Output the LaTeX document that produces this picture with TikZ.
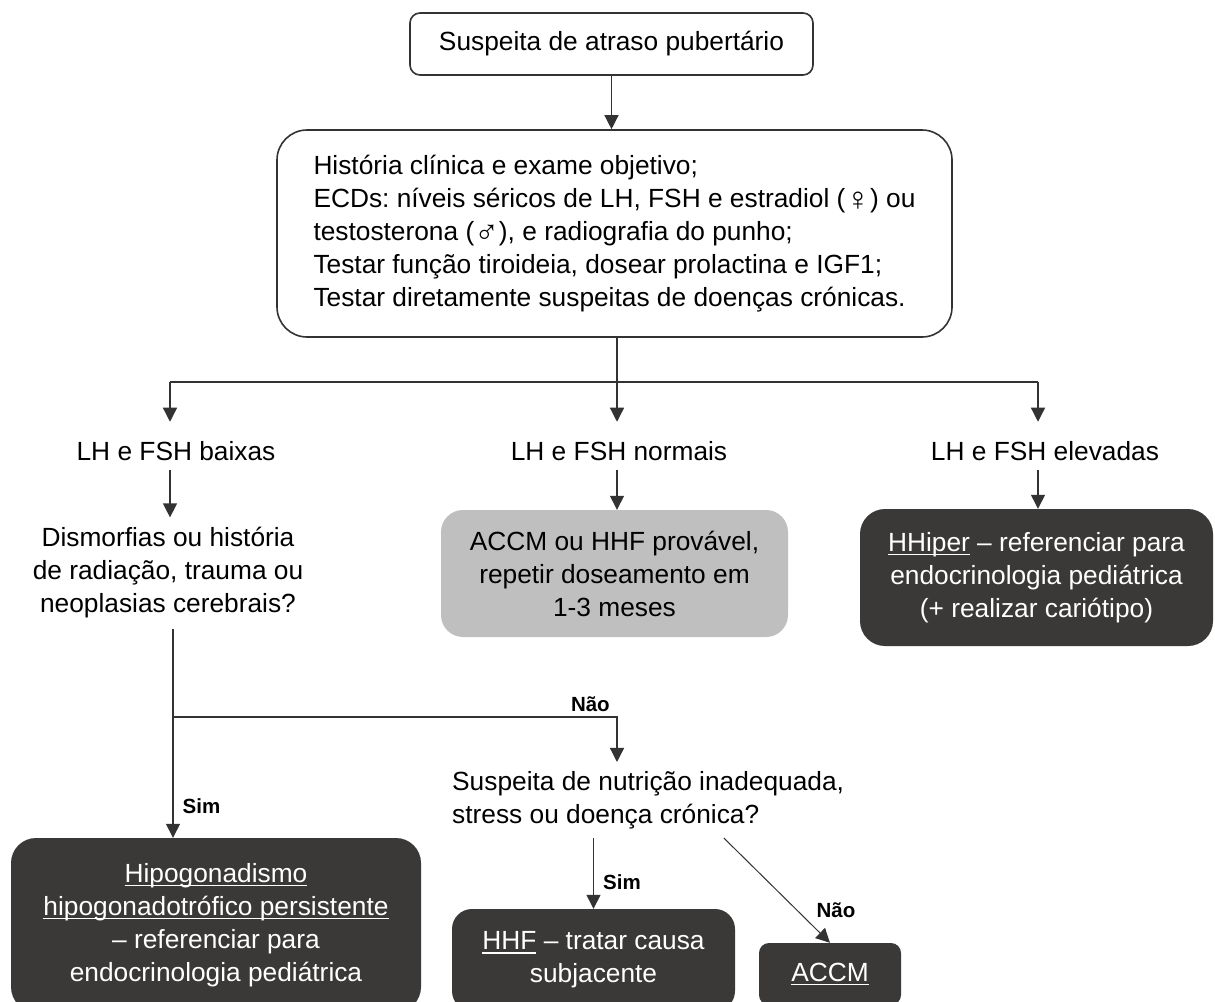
\documentclass[tikz,border=0pt]{standalone}
\usepackage{fontspec}
\usepackage{graphicx}
\setmainfont{Liberation Sans}
\usetikzlibrary{arrows.meta,calc}
\definecolor{darkbox}{RGB}{59,57,55}
\definecolor{greybox}{RGB}{191,191,191}
\definecolor{linegrey}{RGB}{51,51,51}
\newcommand{\ulword}[1]{\setbox0\hbox{#1}\rlap{\rule[-4pt]{\wd0}{1.5pt}}\box0\relax}
\newcommand{\gsym}[1]{\raisebox{-0.1em}{\scalebox{1.25}{#1}}}
\frenchspacing

\begin{document}
\begin{tikzpicture}[
  x=1pt, y=-1pt,
  every node/.style={font=\fontsize{26.3}{33}\selectfont, align=center},
  plain/.style={inner xsep=0pt, inner ysep=10pt},
  whitebox/.style={draw=linegrey, line width=1.6pt, fill=white},
  greyfill/.style={fill=greybox, rounded corners=22pt},
  darkfill/.style={fill=darkbox, text=white},
  answer/.style={font=\fontsize{20.5}{24}\bfseries\selectfont, inner xsep=9pt, inner ysep=5pt},
  arr/.style={draw=linegrey, line width=1.3pt, -{Triangle[length=14pt,width=14pt]}},
  link/.style={draw=linegrey, line width=1.3pt}
]
\useasboundingbox (0,0) rectangle (1215,1001);

\node[whitebox, rounded corners=10pt, minimum width=403pt, minimum height=62pt] (start) at (611.5,44) {Suspeita de atraso pubertário};
\node[whitebox, rounded corners=30pt, minimum width=675pt, minimum height=207pt, align=left] (exams) at (614.5,233.5)
  {História clínica e exame objetivo;\\ECDs: níveis séricos de LH, FSH e estradiol (\gsym{♀}) ou\\testosterona (\gsym{♂}), e radiografia do punho;\\Testar função tiroideia, dosear prolactina e IGF1;\\Testar diretamente suspeitas de doenças crónicas.};

\node[plain, anchor=base] (low) at (176,460) {LH e FSH baixas};
\node[plain, anchor=base] (normal) at (619,460) {LH e FSH normais};
\node[plain, anchor=base] (high) at (1045,460) {LH e FSH elevadas};

\node[plain] (dysm) at (168,573) {Dismorfias ou história\\de radiação, trauma ou\\neoplasias cerebrais?};
\node[greyfill, minimum width=347pt, minimum height=127pt] (probable) at (614.5,573.5) {ACCM ou HHF provável,\\repetir doseamento em\\1-3 meses};
\node[darkfill, rounded corners=25pt, minimum width=353pt, minimum height=137pt] (hyper) at (1036.5,577.5) {\ulword{HHiper} – referenciar para\\endocrinologia pediátrica\\(+ realizar cariótipo)};

\node[plain, anchor=west, align=left, inner ysep=9pt] (nutri) at (452,800) {Suspeita de nutrição inadequada,\\stress ou doença crónica?};

\node[darkfill, rounded corners=25pt, minimum width=410pt, minimum height=174pt] (persist) at (216,925) {\ulword{Hipogonadismo}\\\ulword{hipogonadotrófico persistente}\\– referenciar para\\endocrinologia pediátrica};
\node[darkfill, rounded corners=20pt, minimum width=283pt, minimum height=102pt] (hhf) at (593.5,960) {\ulword{HHF} – tratar causa\\subjacente};
\node[darkfill, rounded corners=10pt, minimum width=142pt, minimum height=62pt] (accm) at (830,974) {\ulword{ACCM}};

\coordinate (splitL) at (170,382);
\coordinate (splitM) at (617,382);
\coordinate (splitR) at (1038,382);
\coordinate (join) at (173,717);
\coordinate (noturn) at (617,717);

\draw[arr] (start.south) -- (start.south |- exams.north);
\draw[link] (exams.south -| splitM) -- (splitM);
\draw[link] (splitL) -- (splitR);
\draw[arr, shorten >=9pt] (splitL) -- (splitL |- low.north);
\draw[arr, shorten >=9pt] (splitM) -- (splitM |- normal.north);
\draw[arr, shorten >=9pt] (splitR) -- (splitR |- high.north);
\draw[arr] (splitL |- low.south) -- (splitL |- dysm.north);
\draw[arr] (splitM |- normal.south) -- (splitM |- probable.north);
\draw[arr] (splitR |- high.south) -- (splitR |- hyper.north);
\draw[arr] (join |- dysm.south) -- node[answer, pos=0.85, anchor=west] {Sim} (join |- persist.north);
\draw[arr] (join) -- node[answer, pos=0.94, anchor=south] {Não} (noturn) -- (noturn |- nutri.north);
\draw[arr] (nutri.south -| hhf.north) -- node[answer, pos=0.62, anchor=west] {Sim} (hhf.north);
\draw[arr, line width=1pt] ($(nutri.south west)!0.693!(nutri.south east)$) -- node[answer, pos=0.69, anchor=west, xshift=10pt] {Não} (accm.north);
\end{tikzpicture}
\end{document}
